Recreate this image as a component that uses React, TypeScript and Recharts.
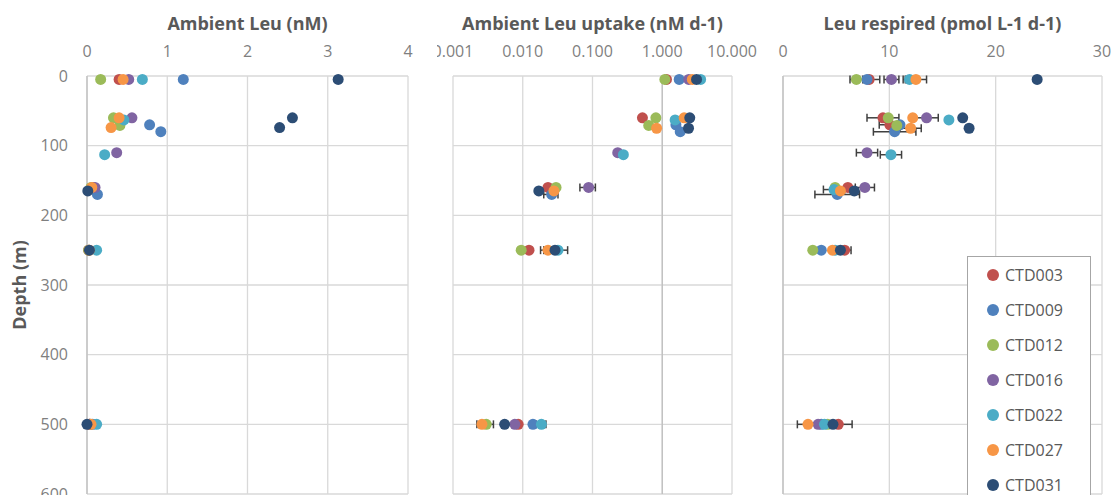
import {
  ScatterChart, Scatter, XAxis, YAxis, CartesianGrid,
  ReferenceLine, ErrorBar, Legend,
} from "recharts";

// [value, depth (m), horizontal error]
type Pt = [number, number, number?];

const stations = ["CTD003", "CTD009", "CTD012", "CTD016", "CTD022", "CTD027", "CTD031"];
const stationColors = ["#C0504D", "#4F81BD", "#9BBB59", "#8064A2", "#4BACC6", "#F79646", "#2C4D75"];

const depthTicks = [0, 100, 200, 300, 400, 500, 600];
const leuTicks = [0, 1, 2, 3, 4];
const uptakeTicks = [0.001, 0.01, 0.1, 1, 10];
const respiredTicks = [0, 10, 20, 30];

// Ambient Leu (nM), one list per station
const ambientLeu: Pt[][] = [
  [[0.40, 5], [0.08, 160], [0.02, 250], [0.03, 500]],
  [[1.20, 5], [0.78, 70], [0.92, 80], [0.13, 170], [0.07, 500]],
  [[0.17, 5], [0.33, 60], [0.41, 71], [0.05, 160], [0.02, 250], [0.04, 500]],
  [[0.52, 5], [0.56, 60], [0.37, 110], [0.10, 160], [0.03, 500]],
  [[0.69, 5], [0.46, 63], [0.22, 113], [0.12, 250], [0.12, 500]],
  [[0.45, 5], [0.40, 60], [0.30, 74], [0.06, 160], [0.03, 250], [0.05, 500]],
  [[3.13, 5], [2.56, 60], [2.40, 74], [0.01, 165], [0.03, 250], [0.0, 500]],
];

// Ambient Leu uptake (nM d-1)
const leuUptake: Pt[][] = [
  [[1.15, 5], [0.52, 60], [0.023, 160], [0.0123, 250], [0.0086, 500]],
  [[1.75, 5], [1.57, 70], [1.81, 80], [0.026, 170, 0.006], [0.014, 500]],
  [[1.09, 5], [0.81, 60], [0.64, 71], [0.030, 160], [0.0095, 250], [0.0030, 500, 0.0008]],
  [[2.4, 5], [0.23, 110], [0.088, 160, 0.022], [0.0077, 500]],
  [[3.55, 5], [1.53, 63], [0.277, 113], [0.032, 250, 0.012], [0.0185, 500, 0.003]],
  [[2.7, 5], [2.06, 60], [0.83, 75], [0.028, 165], [0.023, 250, 0.005], [0.0026, 500]],
  [[3.1, 5], [2.48, 60], [2.38, 75], [0.017, 165], [0.029, 250], [0.0055, 500]],
];

// Leu respired (pmol L-1 d-1)
const leuRespired: Pt[][] = [
  [[8.1, 5, 1.0], [9.4, 60, 1.5], [10.05, 70, 1.0], [6.1, 160], [5.8, 250, 0.6], [5.2, 500, 1.3]],
  [[7.9, 5], [11.0, 70], [10.5, 80, 2.0], [5.1, 170, 2.1], [3.6, 250], [3.6, 500]],
  [[6.9, 5, 0.6], [9.9, 60], [10.7, 71], [4.9, 160], [2.8, 250], [4.2, 500]],
  [[10.2, 5, 0.7], [13.5, 60, 1.1], [7.9, 110, 1.0], [7.7, 160, 0.9], [3.3, 500]],
  [[11.9, 5, 0.6], [15.6, 63], [10.15, 113, 1.0], [4.8, 163, 1.0], [4.9, 250], [3.9, 500]],
  [[12.5, 5, 1.0], [12.2, 60], [12.0, 75, 1.0], [5.4, 165], [4.65, 250], [2.35, 500, 1.0]],
  [[23.9, 5], [16.9, 60], [17.5, 75], [6.7, 165], [5.4, 250], [4.7, 500]],
];

const TICK = { fontSize: 16, fill: "#7f7f7f" };
const TITLE = { fontSize: 18, fontWeight: "bold", fill: "#595959" };

function LegendBox() {
  return (
    <div style={{ width: 124, height: 260, border: "1px solid #a6a6a6", background: "#fff", boxSizing: "border-box" }}>
      {stations.map((s, i) => (
        <div key={s} style={{ height: 35, display: "flex", alignItems: "center", color: "#595959", fontSize: 16 }}>
          <svg width={37} height={14}>
            <circle cx={25} cy={7} r={6} fill={stationColors[i]} />
          </svg>
          <span>{s}</span>
        </div>
      ))}
    </div>
  );
}

interface PanelProps {
  title: string;
  data: Pt[][];
  ticks: number[];
  log?: boolean;
  axisAt: number;
  left: number;
  width: number;
  plotLeft: number;
  plotRight: number;
  showDepth?: boolean;
  legend?: boolean;
}

function Panel({ title, data, ticks, log, axisAt, left, width, plotLeft, plotRight, showDepth, legend }: PanelProps) {
  return (
    <div style={{ position: "absolute", left, top: 0, width, height: 495, overflow: "hidden" }}>
      <ScatterChart
        width={width}
        height={520}
        margin={{ top: 0, right: width - plotRight, bottom: 26, left: showDepth ? 0 : plotLeft }}
      >
        <CartesianGrid stroke="#d9d9d9" strokeWidth={1.3} />
        <XAxis
          type="number"
          dataKey="v"
          orientation="top"
          height={76}
          scale={log ? "log" : "linear"}
          domain={[ticks[0], ticks[ticks.length - 1]]}
          ticks={ticks}
          interval={0}
          axisLine={false}
          tickLine={false}
          tickSize={0}
          tickMargin={19}
          tick={TICK}
          tickFormatter={(v: number) => (log ? v.toFixed(3) : String(v))}
          label={{ value: title, position: "insideTop", offset: 17, style: TITLE }}
        />
        <YAxis
          type="number"
          dataKey="d"
          reversed
          domain={[0, 600]}
          ticks={depthTicks}
          interval={0}
          hide={!showDepth}
          width={plotLeft}
          axisLine={false}
          tickLine={false}
          tickSize={0}
          tickMargin={19}
          tick={TICK}
          label={{
            value: "Depth (m)", angle: -90, position: "insideLeft", offset: 20,
            style: { ...TITLE, textAnchor: "middle" },
          }}
        />
        <ReferenceLine x={axisAt} stroke="#bfbfbf" strokeWidth={1.3} />
        {data.map((pts, i) => (
          <Scatter
            key={stations[i]}
            name={stations[i]}
            data={pts.map(([v, d, e]) => ({ v, d, e }))}
            fill={stationColors[i]}
            isAnimationActive={false}
            shape={(p: any) => <circle cx={p.cx} cy={p.cy} r={5.5} fill={stationColors[i]} />}
          >
            {pts.some((p) => p[2] !== undefined) && (
              <ErrorBar dataKey="e" direction="x" width={4} stroke="#404040" strokeWidth={1.5} />
            )}
          </Scatter>
        ))}
        {legend && (
          <Legend
            layout="vertical"
            align="center"
            verticalAlign="middle"
            wrapperStyle={{ left: 967 - left, top: 256, width: 124, height: 260 }}
            content={() => <LegendBox />}
          />
        )}
      </ScatterChart>
    </div>
  );
}

export default function App() {
  return (
    <div style={{ position: "absolute", left: 0, top: 0, width: 1114, height: 495, overflow: "hidden", background: "#fff", fontFamily: "'Open Sans', sans-serif" }}>
      <Panel title="Ambient Leu (nM)" data={ambientLeu} ticks={leuTicks} axisAt={0}
        left={0} width={437} plotLeft={87} plotRight={408} showDepth />
      <Panel title="Ambient Leu uptake (nM d-1)" data={leuUptake} ticks={uptakeTicks} log axisAt={1}
        left={437} width={333} plotLeft={16} plotRight={295} />
      <Panel title="Leu respired (pmol L-1 d-1)" data={leuRespired} ticks={respiredTicks} axisAt={0}
        left={760} width={354} plotLeft={23} plotRight={342} legend />
    </div>
  );
}
